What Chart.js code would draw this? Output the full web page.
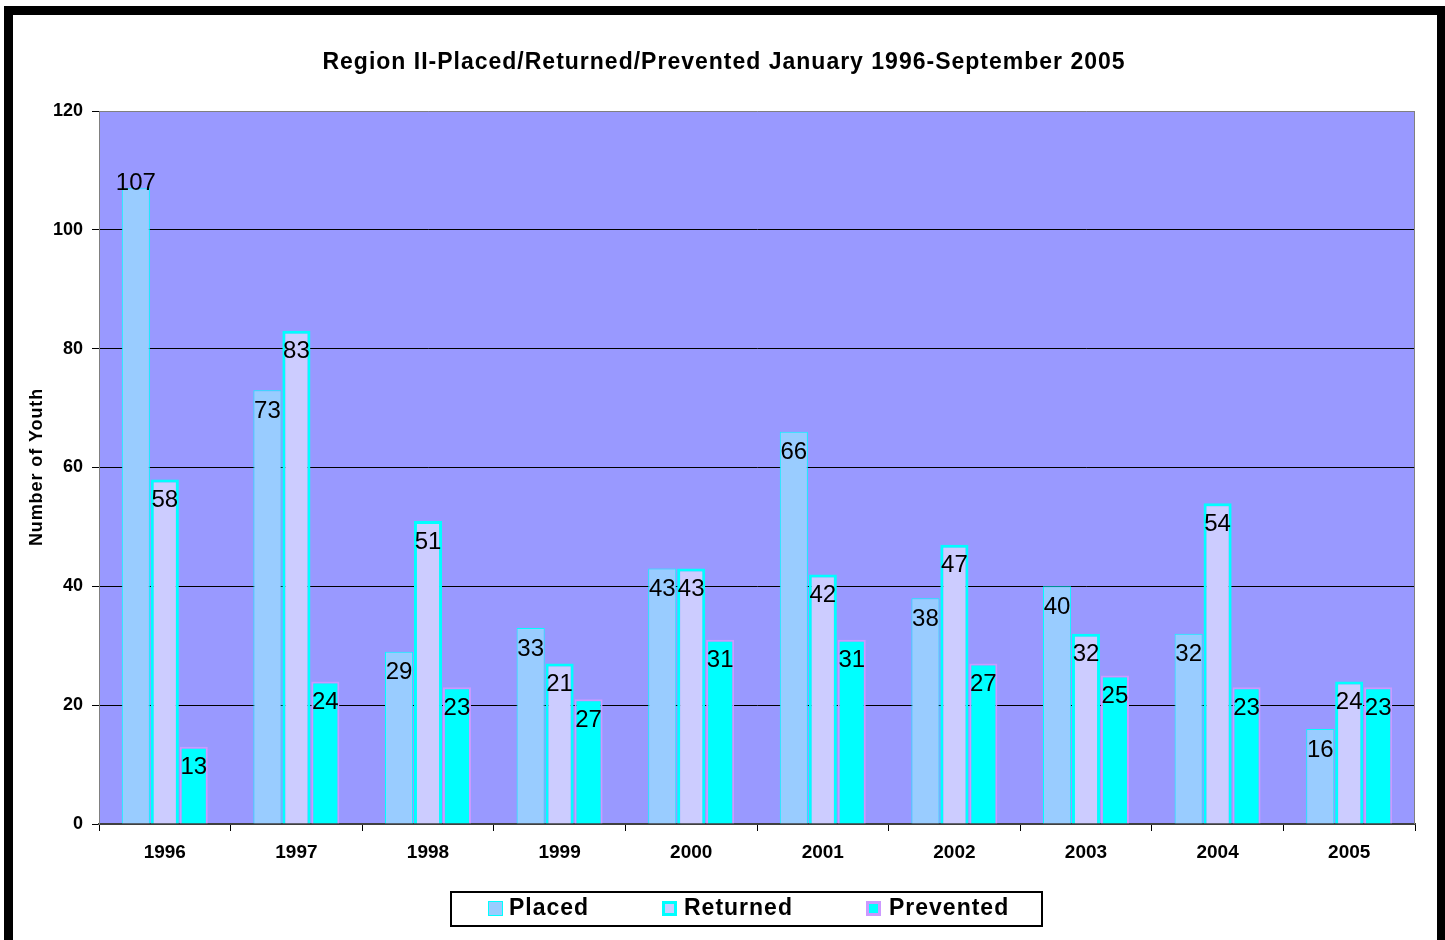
<!DOCTYPE html>
<html><head><meta charset="utf-8">
<script src="https://cdn.jsdelivr.net/npm/chart.js@4.4.0/dist/chart.umd.min.js"></script>
<style>html,body{margin:0;padding:0;background:#fff;overflow:hidden}#wrap{position:absolute;left:0;top:0;width:1445px;height:940px}</style>
</head><body><div id="wrap"><canvas id="c" width="1445" height="940"></canvas></div>
<script>
const years = ['1996','1997','1998','1999','2000','2001','2002','2003','2004','2005'];
const placed    = [107, 73, 29, 33, 43, 66, 38, 40, 32, 16];
const returned  = [ 58, 83, 51, 27, 43, 42, 47, 32, 54, 24];
const prevented = [ 13, 24, 23, 21, 31, 31, 27, 25, 23, 23];
// data labels as printed in the source chart (the 1999 Returned/Prevented labels are swapped there)
const placedLabels    = [107, 73, 29, 33, 43, 66, 38, 40, 32, 16];
const returnedLabels  = [ 58, 83, 51, 21, 43, 42, 47, 32, 54, 24];
const preventedLabels = [ 13, 24, 23, 27, 31, 31, 27, 25, 23, 23];
const yTicks = [0, 20, 40, 60, 80, 100, 120];
const seriesNames = ['Placed', 'Returned', 'Prevented'];
const titleText = 'Region II-Placed/Returned/Prevented January 1996-September 2005';
const yTitleText = 'Number of Youth';

const FONT = '"Liberation Sans", Arial, sans-serif';
const PLOT_BG = '#9999FF';

const framePlugin = {
  id: 'frame',
  beforeDraw(chart) {
    const ctx = chart.ctx, a = chart.chartArea;
    ctx.save();
    ctx.fillStyle = '#fff';
    ctx.fillRect(0, 0, chart.width, chart.height);
    ctx.fillStyle = '#000';
    ctx.fillRect(4, 6, 1441, 9);      // top frame
    ctx.fillRect(4, 6, 9, 934);       // left frame
    ctx.fillRect(1437, 6, 8, 934);    // right frame
    ctx.fillStyle = PLOT_BG;
    ctx.fillRect(a.left, a.top, a.right - a.left, a.bottom - a.top);
    ctx.restore();
  },
  afterDraw(chart) {
    const ctx = chart.ctx, a = chart.chartArea;
    ctx.save();
    // title
    ctx.fillStyle = '#000';
    ctx.font = 'bold 23px ' + FONT;
    ctx.textAlign = 'center';
    ctx.textBaseline = 'middle';
    try { ctx.letterSpacing = '1px'; } catch (e) {}
    ctx.fillText(titleText, 724, 63);
    // y title
    ctx.save();
    ctx.translate(37, 467);
    ctx.rotate(-Math.PI / 2);
    ctx.font = 'bold 18px ' + FONT;
    try { ctx.letterSpacing = '0.9px'; } catch (e) {}
    ctx.fillText(yTitleText, 0, 0);
    ctx.restore();
    try { ctx.letterSpacing = '0px'; } catch (e) {}
    // plot edges
    ctx.strokeStyle = '#808080';
    ctx.lineWidth = 1;
    ctx.beginPath();
    ctx.moveTo(a.right - 0.5, a.bottom);
    ctx.lineTo(a.right - 0.5, a.top + 0.5);
    ctx.stroke();
    // legend
    ctx.fillStyle = '#fff';
    ctx.fillRect(451, 892, 591, 34);
    ctx.strokeStyle = '#000';
    ctx.lineWidth = 2;
    ctx.strokeRect(451, 892, 591, 34);
    const items = [
      {sx: 488, tx: 509},
      {sx: 662, tx: 684},
      {sx: 866, tx: 889}
    ];
    ctx.font = 'bold 23px ' + FONT;
    ctx.textAlign = 'left';
    ctx.textBaseline = 'middle';
    try { ctx.letterSpacing = '1px'; } catch (e) {}
    chart.data.datasets.forEach((ds, i) => {
      const it = items[i];
      ctx.fillStyle = ds.borderColor;
      ctx.fillRect(it.sx, 901, 15, 15);
      const bw = i === 0 ? 1 : 3;
      ctx.fillStyle = ds.backgroundColor;
      ctx.fillRect(it.sx + bw, 901 + bw, 15 - 2 * bw, 15 - 2 * bw);
      ctx.fillStyle = '#000';
      ctx.fillText(ds.label, it.tx, 909);
    });
    ctx.restore();
  }
};

const labelPlugin = {
  id: 'barLabels',
  afterDatasetsDraw(chart) {
    const ctx = chart.ctx;
    const texts = [placedLabels, returnedLabels, preventedLabels];
    ctx.save();
    ctx.font = '24px ' + FONT;
    ctx.fillStyle = '#000';
    ctx.textAlign = 'center';
    ctx.textBaseline = 'middle';
    chart.data.datasets.forEach((ds, di) => {
      const meta = chart.getDatasetMeta(di);
      meta.data.forEach((el, i) => {
        let dy = 21;
        if (di === 0 && i === 0) dy = -5;
        ctx.fillText(String(texts[di][i]), el.x, el.y + dy);
      });
    });
    ctx.restore();
  }
};

new Chart(document.getElementById('c'), {
  type: 'bar',
  data: {
    labels: years,
    datasets: [
      {label: seriesNames[0], data: placed, backgroundColor: '#99CCFF', borderColor: '#00FFFF', borderWidth: 1},
      {label: seriesNames[1], data: returned, backgroundColor: '#CCCCFF', borderColor: '#00FFFF', borderWidth: 3},
      {label: seriesNames[2], data: prevented, backgroundColor: '#00FFFF', borderColor: '#CC99FF', borderWidth: 2}
    ]
  },
  options: {
    responsive: false,
    animation: false,
    devicePixelRatio: 1,
    layout: {padding: {top: 111, right: 30, bottom: 0, left: 0}},
    datasets: {bar: {categoryPercentage: 0.66, barPercentage: 0.97, borderSkipped: 'bottom'}},
    plugins: {legend: {display: false}, title: {display: false}, tooltip: {enabled: false}},
    scales: {
      x: {
        afterFit(s) { s.height = 116; },
        grid: {offset: true, drawOnChartArea: false, tickLength: 7, color: '#000'},
        border: {color: '#404040', width: 2},
        ticks: {color: '#000', font: {family: FONT, size: 19, weight: 'bold'}, padding: 10, maxRotation: 0}
      },
      y: {
        min: 0, max: 120,
        afterFit(s) { s.width = 99; },
        afterBuildTicks(s) { s.ticks = yTicks.map(v => ({value: v})); },
        grid: {
          color: c => (c.tick && c.tick.value === 120) ? '#808080' : '#000',
          tickColor: '#000', tickLength: 7, lineWidth: 1
        },
        border: {color: '#808080', width: 1},
        ticks: {color: '#000', font: {family: FONT, size: 18, weight: 'bold'}, padding: 9}
      }
    }
  },
  plugins: [framePlugin, labelPlugin]
});
</script>
</body></html>
